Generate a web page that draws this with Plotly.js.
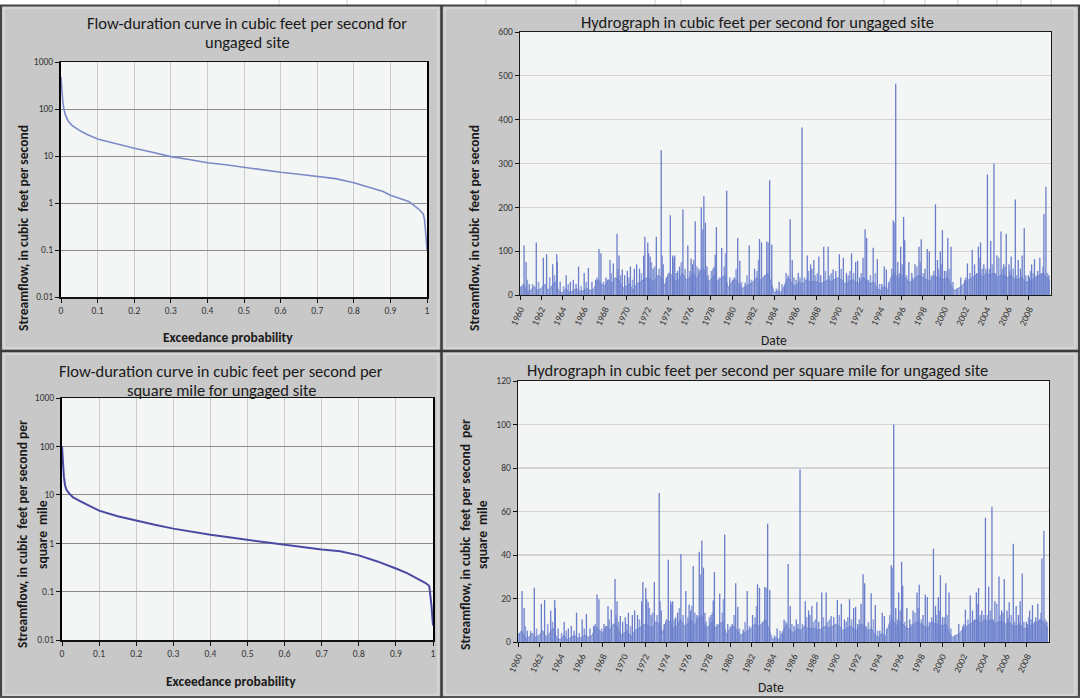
<!DOCTYPE html>
<html><head><meta charset="utf-8">
<script src="https://cdn.plot.ly/plotly-3.0.1.min.js"></script>
<style>html,body{margin:0;padding:0;background:#c8c8c8;overflow:hidden}#chart{width:1080px;height:698px}</style>
</head><body><div id="chart"></div>
<script>
// ---------- Flow-duration curves ----------
const fdcProb = [0, 0.002, 0.005, 0.008, 0.012, 0.02, 0.03, 0.05, 0.07, 0.1, 0.15, 0.2, 0.25, 0.3, 0.35, 0.4, 0.45, 0.5, 0.55, 0.6, 0.65, 0.7, 0.75, 0.8, 0.85, 0.88, 0.9, 0.93, 0.95, 0.96, 0.98, 0.99, 0.993, 0.996, 1.0];
const fdcCfs = [480, 250, 140, 100, 75, 55, 45, 35, 29, 23, 18, 14.6, 12, 9.7, 8.4, 7.2, 6.5, 5.7, 5.1, 4.5, 4.1, 3.7, 3.3, 2.7, 2.1, 1.75, 1.46, 1.2, 1.08, 0.95, 0.71, 0.58, 0.45, 0.25, 0.1];
const fdcCsm = [100, 44, 24, 16, 12.7, 10.5, 8.8, 7.3, 6.2, 4.7, 3.6, 2.9, 2.4, 2.0, 1.7, 1.49, 1.32, 1.17, 1.05, 0.94, 0.83, 0.74, 0.68, 0.56, 0.42, 0.35, 0.30, 0.24, 0.20, 0.18, 0.15, 0.13, 0.09, 0.05, 0.02];
const probTickVals = [0, 0.1, 0.2, 0.3, 0.4, 0.5, 0.6, 0.7, 0.8, 0.9, 1];
const probTickLabels = ['0', '0.1', '0.2', '0.3', '0.4', '0.5', '0.6', '0.7', '0.8', '0.9', '1'];
const logTickVals = [0.01, 0.1, 1, 10, 100, 1000];
const logTickLabels = ['0.01', '0.1', '1', '10', '100', '1000'];

// ---------- Hydrographs: storm peaks ----------
const peakDates = ['1960-05-20','1960-07-30','1960-11-15','1961-07-15','1962-03-15','1962-07-05','1963-02-01','1963-06-20','1963-07-10','1963-10-15','1964-05-10','1964-10-01','1965-01-10','1965-04-15','1965-07-10','1966-01-20','1966-06-15','1966-10-15','1967-02-20','1967-06-15','1967-08-20','1968-02-10','1968-04-15','1968-06-28','1968-10-20','1969-02-25','1969-05-05','1969-08-25','1969-11-15','1970-02-15','1970-06-01','1970-10-15','1971-01-01','1971-04-10','1971-08-30','1971-10-12','1972-01-20','1972-02-20','1972-04-12','1972-07-20','1972-11-10','1973-04-27','1973-07-05','1973-10-15','1974-03-05','1974-05-25','1974-08-05','1974-11-15','1975-01-20','1975-05-15','1975-10-30','1976-02-20','1976-04-15','1976-07-12','1976-11-15','1977-02-05','1977-05-05','1977-06-28','1977-08-20','1978-03-15','1978-06-01','1978-07-12','1979-01-10','1979-07-01','1979-10-15','1980-03-15','1980-07-15','1980-09-25','1981-03-28','1981-08-15','1982-02-15','1982-08-05','1982-10-12','1983-04-12','1983-07-20','1983-10-01','1984-06-10','1984-12-15','1985-02-05','1985-06-25','1985-09-05','1986-01-15','1986-04-01','1986-08-08','1987-02-05','1987-05-30','1987-07-15','1987-09-20','1988-03-10','1988-05-15','1988-08-25','1989-01-25','1989-07-15','1989-10-15','1990-02-15','1990-07-01','1990-10-15','1991-04-10','1991-08-30','1991-11-05','1992-01-15','1992-05-10','1992-07-20','1992-09-12','1993-04-25','1993-09-15','1994-02-15','1994-05-10','1994-07-22','1995-03-18','1995-06-10','1995-08-20','1995-11-28','1996-03-08','1996-04-15','1996-09-05','1996-12-15','1997-04-05','1997-08-20','1997-11-05','1998-03-15','1998-06-01','1998-08-10','1999-03-10','1999-05-20','1999-08-25','1999-11-05','2000-01-15','2000-05-08','2000-08-28','2001-07-30','2001-12-15','2002-03-15','2002-08-28','2002-11-15','2003-01-20','2003-03-28','2003-06-10','2003-10-01','2004-02-03','2004-05-25','2004-09-15','2004-12-25','2005-05-15','2005-08-15','2005-11-12','2006-02-15','2006-05-01','2006-09-20','2006-12-28','2007-03-15','2007-05-15','2007-07-25','2007-12-15','2008-01-15','2008-04-05','2008-07-12','2008-11-01','2009-01-12','2009-06-01','2009-08-10','2009-11-20'];
const peakCfs = [113,75,25,120,85,93,70,93,75,30,45,30,35,25,65,50,62,30,35,105,95,40,35,80,72,140,90,58,45,55,65,60,70,60,90,133,120,95,88,60,133,330,70,40,182,90,90,55,65,195,113,83,70,168,60,200,225,165,65,60,92,155,107,238,40,40,130,78,28,113,60,128,120,122,262,115,30,20,50,173,80,35,50,382,90,70,60,80,88,45,110,110,58,55,93,85,50,95,75,78,40,85,150,130,108,82,25,65,58,170,482,75,110,178,125,75,50,70,110,127,60,105,100,207,80,100,148,55,130,110,40,35,72,103,70,50,110,120,70,275,123,300,90,145,70,140,70,88,218,80,60,90,152,45,40,70,82,55,85,185,247,45];
const peakCsm = [23.4,15.6,5.2,24.9,17.6,19.3,14.5,19.3,15.6,6.2,9.3,6.2,7.3,5.2,13.5,10.4,12.9,6.2,7.3,21.8,19.7,8.3,7.3,16.6,14.9,29.0,18.7,12.0,9.3,11.4,13.5,12.4,14.5,12.4,18.7,27.6,24.9,19.7,18.3,12.4,27.6,68.5,14.5,8.3,37.8,18.7,18.7,11.4,13.5,40.5,23.4,17.2,14.5,34.9,12.4,41.5,46.7,34.2,13.5,12.4,19.1,32.2,22.2,49.4,8.3,8.3,27.0,16.2,5.8,23.4,12.4,26.6,24.9,25.3,54.4,23.9,6.2,4.1,10.4,35.9,16.6,7.3,10.4,79.3,18.7,14.5,12.4,16.6,18.3,9.3,22.8,22.8,12.0,11.4,19.3,17.6,10.4,19.7,15.6,16.2,8.3,17.6,31.1,27.0,22.4,17.0,5.2,13.5,12.0,35.3,100,15.6,22.8,36.9,25.9,15.6,10.4,14.5,22.8,26.3,12.4,21.8,20.7,42.9,16.6,20.7,30.7,11.4,27.0,22.8,8.3,7.3,14.9,21.4,14.5,10.4,22.8,24.9,14.5,57.1,25.5,62.2,18.7,30.1,14.5,29.0,14.5,18.3,45.2,16.6,12.4,18.7,31.5,9.3,8.3,14.5,17.0,11.4,17.6,38.4,51.2,9.3];

// ---------- Hydrographs: smaller freshets ----------
const minorDates = ['1960-02-20','1960-09-10','1961-03-10','1961-10-01','1962-10-20','1963-04-05','1964-02-10','1964-07-20','1965-10-10','1966-04-01','1967-04-10','1967-11-20','1968-08-10','1969-04-01','1969-07-01','1970-04-10','1970-08-15','1971-06-15','1972-05-25','1972-09-15','1973-02-10','1973-06-01','1973-12-10','1974-06-25','1974-10-01','1975-03-20','1975-08-01','1976-01-10','1976-05-20','1976-09-10','1977-03-25','1977-10-01','1978-01-20','1978-05-01','1978-10-10','1979-04-10','1979-05-20','1980-01-20','1980-05-20','1980-11-20','1981-06-01','1981-11-01','1982-05-10','1982-07-01','1983-01-20','1983-06-01','1984-03-10','1984-09-20','1985-04-15','1985-11-01','1986-06-01','1986-11-01','1987-03-20','1987-11-15','1988-01-20','1988-10-20','1989-03-20','1989-05-20','1990-04-20','1990-12-15','1991-02-10','1991-06-20','1992-03-10','1992-11-15','1993-01-20','1993-07-10','1993-12-01','1994-10-10','1995-01-25','1995-04-25','1995-10-10','1996-01-20','1996-06-20','1997-01-20','1997-06-10','1997-10-01','1998-01-20','1998-10-20','1999-01-10','1999-06-25','1999-09-25','2000-03-20','2000-07-01','2000-11-01','2001-03-15','2002-01-20','2002-06-10','2003-05-01','2003-08-10','2003-12-10','2004-04-10','2004-07-20','2004-11-01','2005-03-01','2005-06-20','2005-10-01','2006-03-20','2006-07-10','2006-11-01','2007-04-01','2007-09-20','2008-03-01','2008-06-01','2008-09-20','2009-03-10','2009-05-01','2009-10-01'];
const minorCfs = [20,35,25,30,40,45,20,25,20,30,40,30,50,60,45,40,35,50,75,65,60,90,45,85,50,75,60,55,80,65,150,45,55,65,40,65,95,35,60,30,45,35,55,80,45,120,15,25,45,40,40,40,55,45,50,55,45,50,60,45,55,50,50,35,45,50,25,30,60,165,50,70,45,40,65,75,50,45,55,60,70,55,60,30,15,40,50,85,60,60,60,70,50,85,60,65,55,60,45,45,45,55,50,45,50,65,50];
const minorCsm = [4.1,7.3,5.2,6.2,8.3,9.3,4.1,5.2,4.1,6.2,8.3,6.2,10.4,12.4,9.3,8.3,7.3,10.4,15.6,13.5,12.4,18.7,9.3,17.6,10.4,15.6,12.4,11.4,16.6,13.5,31.1,9.3,11.4,13.5,8.3,13.5,19.7,7.3,12.4,6.2,9.3,7.3,11.4,16.6,9.3,24.9,3.1,5.2,9.3,8.3,8.3,8.3,11.4,9.3,10.4,11.4,9.3,10.4,12.4,9.3,11.4,10.4,10.4,7.3,9.3,10.4,5.2,6.2,12.4,34.2,10.4,14.5,9.3,8.3,13.5,15.6,10.4,9.3,11.4,12.4,14.5,11.4,12.4,6.2,3.1,8.3,10.4,17.6,12.4,12.4,12.4,14.5,10.4,17.6,12.4,13.5,11.4,12.4,9.3,9.3,9.3,11.4,10.4,9.3,10.4,13.5,10.4];

// ---------- Hydrographs: dense daily low-flow band ----------
const baseDates = ['1960-01','1960-05','1960-09','1961-01','1961-05','1961-09','1962-01','1962-05','1962-09','1963-01','1963-05','1963-09','1964-01','1964-05','1964-09','1965-01','1965-05','1965-09','1966-01','1966-05','1966-09','1967-01','1967-05','1967-09','1968-01','1968-05','1968-09','1969-01','1969-05','1969-09','1970-01','1970-05','1970-09','1971-01','1971-05','1971-09','1972-01','1972-05','1972-09','1973-01','1973-05','1973-09','1974-01','1974-05','1974-09','1975-01','1975-05','1975-09','1976-01','1976-05','1976-09','1977-01','1977-05','1977-09','1978-01','1978-05','1978-09','1979-01','1979-05','1979-09','1980-01','1980-05','1980-09','1981-01','1981-05','1981-09','1982-01','1982-05','1982-09','1983-01','1983-05','1983-09','1984-01','1984-05','1984-09','1985-01','1985-05','1985-09','1986-01','1986-05','1986-09','1987-01','1987-05','1987-09','1988-01','1988-05','1988-09','1989-01','1989-05','1989-09','1990-01','1990-05','1990-09','1991-01','1991-05','1991-09','1992-01','1992-05','1992-09','1993-01','1993-05','1993-09','1994-01','1994-05','1994-09','1995-01','1995-05','1995-09','1996-01','1996-05','1996-09','1997-01','1997-05','1997-09','1998-01','1998-05','1998-09','1999-01','1999-05','1999-09','2000-01','2000-05','2000-09','2001-01','2001-05','2001-09','2002-01','2002-05','2002-09','2003-01','2003-05','2003-09','2004-01','2004-05','2004-09','2005-01','2005-05','2005-09','2006-01','2006-05','2006-09','2007-01','2007-05','2007-09','2008-01','2008-05','2008-09','2009-01','2009-05','2009-09','2010-01'];
const baseCfs = [15,25,8, 10,20,10, 15,25,10, 20,30,8, 5,15,5, 10,15,8, 10,15,10, 15,35,25, 20,35,25, 40,35,15, 20,25,10, 25,30,35, 40,35,30, 45,40,20, 50,45,30, 35,50,35, 40,50,35, 55,60,30, 35,45,30, 40,45,15, 30,35,25, 15,20,25, 30,40,35, 40,50,30, 5,10,5, 25,40,25, 20,30,25, 35,30,30, 30,25,30, 35,30,35, 40,35,25, 30,35,30, 25,40,35, 25,30,15, 10,20,10, 40,50,35, 45,40,30, 30,40,45, 40,35,30, 45,40,40, 35,40,20, 10,15,20, 30,35,40, 45,50,40, 50,45,50, 40,45,45, 40,45,35, 35,40,30, 30,35,40, 45,50,40, 30];
const baseCsm = [3.1,5.2,1.7, 2.1,4.1,2.1, 3.1,5.2,2.1, 4.1,6.2,1.7, 1.0,3.1,1.0, 2.1,3.1,1.7, 2.1,3.1,2.1, 3.1,7.3,5.2, 4.1,7.3,5.2, 8.3,7.3,3.1, 4.1,5.2,2.1, 5.2,6.2,7.3, 8.3,7.3,6.2, 9.3,8.3,4.1, 10.4,9.3,6.2, 7.3,10.4,7.3, 8.3,10.4,7.3, 11.4,12.4,6.2, 7.3,9.3,6.2, 8.3,9.3,3.1, 6.2,7.3,5.2, 3.1,4.1,5.2, 6.2,8.3,7.3, 8.3,10.4,6.2, 1.0,2.1,1.0, 5.2,8.3,5.2, 4.1,6.2,5.2, 7.3,6.2,6.2, 6.2,5.2,6.2, 7.3,6.2,7.3, 8.3,7.3,5.2, 6.2,7.3,6.2, 5.2,8.3,7.3, 5.2,6.2,3.1, 2.1,4.1,2.1, 8.3,10.4,7.3, 9.3,8.3,6.2, 6.2,8.3,9.3, 8.3,7.3,6.2, 9.3,8.3,8.3, 7.3,8.3,4.1, 2.1,3.1,4.1, 6.2,7.3,8.3, 9.3,10.4,8.3, 10.4,9.3,10.4, 8.3,9.3,9.3, 8.3,9.3,7.3, 7.3,8.3,6.2, 6.2,7.3,8.3, 9.3,10.4,8.3, 6.2];

const hydroTickLabels = ['1960','1962','1964','1966','1968','1970','1972','1974','1976','1978','1980','1982','1984','1986','1988','1990','1992','1994','1996','1998','2000','2002','2004','2006','2008'];
const cfsTicks = [0, 100, 200, 300, 400, 500, 600];
const csmTicks = [0, 20, 40, 60, 80, 100, 120];

// ---------- helpers ----------
const W = 1080, H = 698;
const px = v => v / W;
const py = v => 1 - v / H;
const FONT = "Carlito, Calibri, Lato, 'Open Sans', sans-serif";
const hydroTickVals = hydroTickLabels.map(y => y + '-01-01');

function spikes(dates, vals) {
  const x = [], y = [];
  dates.forEach((d, i) => { x.push(d, d, null); y.push(0, vals[i], null); });
  return {x, y};
}
const sTop = spikes(peakDates, peakCfs), sBot = spikes(peakDates, peakCsm);
const mTop = spikes(minorDates, minorCfs), mBot = spikes(minorDates, minorCsm);

const fdcLine1 = '#7c8ac8', fdcLine2 = '#4b4aa2', hydroCol = '#6a7dca';
const baseFill = 'rgba(106,128,205,0.62)', baseLine = 'rgba(100,122,202,0.9)', minorCol = 'rgba(110,132,208,0.75)';

const traces = [
  {x: fdcProb, y: fdcCfs, xaxis: 'x', yaxis: 'y', mode: 'lines', line: {color: fdcLine1, width: 1.6}, hoverinfo: 'skip'},
  {x: baseDates, y: baseCfs, xaxis: 'x2', yaxis: 'y2', mode: 'lines', fill: 'tozeroy', fillcolor: baseFill, line: {color: baseLine, width: 0.8}, hoverinfo: 'skip'},
  {x: mTop.x, y: mTop.y, xaxis: 'x2', yaxis: 'y2', mode: 'lines', line: {color: minorCol, width: 1.6}, connectgaps: false, hoverinfo: 'skip'},
  {x: sTop.x, y: sTop.y, xaxis: 'x2', yaxis: 'y2', mode: 'lines', line: {color: hydroCol, width: 1.3}, connectgaps: false, hoverinfo: 'skip'},
  {x: fdcProb, y: fdcCsm, xaxis: 'x3', yaxis: 'y3', mode: 'lines', line: {color: fdcLine2, width: 2}, hoverinfo: 'skip'},
  {x: baseDates, y: baseCsm, xaxis: 'x4', yaxis: 'y4', mode: 'lines', fill: 'tozeroy', fillcolor: baseFill, line: {color: baseLine, width: 0.8}, hoverinfo: 'skip'},
  {x: mBot.x, y: mBot.y, xaxis: 'x4', yaxis: 'y4', mode: 'lines', line: {color: minorCol, width: 1.6}, connectgaps: false, hoverinfo: 'skip'},
  {x: sBot.x, y: sBot.y, xaxis: 'x4', yaxis: 'y4', mode: 'lines', line: {color: hydroCol, width: 1.3}, connectgaps: false, hoverinfo: 'skip'}
];

const tickFont = {family: FONT, size: 9.5, color: '#333'};
function probAxis(x0, x1, anchor) {
  return {domain: [px(x0), px(x1)], anchor, range: [0, 1], tickvals: probTickVals, ticktext: probTickLabels,
    showgrid: true, gridcolor: '#cbcbcb', gridwidth: 1, zeroline: false, showline: true, linecolor: '#111', linewidth: 1.5,
    mirror: true, ticks: 'outside', ticklen: 4, tickcolor: '#111', tickfont: tickFont, fixedrange: true};
}
function logAxis(yb, yt, anchor) {
  return {domain: [py(yb), py(yt)], anchor, type: 'log', range: [-2, 3], tickvals: logTickVals, ticktext: logTickLabels,
    showgrid: true, gridcolor: '#8c8c8c', gridwidth: 1, zeroline: false, showline: true, linecolor: '#000', linewidth: 2,
    mirror: true, ticks: 'outside', ticklen: 4, tickcolor: '#111', tickfont: tickFont, fixedrange: true};
}
function dateAxis(x0, x1, anchor) {
  return {domain: [px(x0), px(x1)], anchor, type: 'date', range: ['1960-01-01', '2010-02-01'], tickvals: hydroTickVals, ticktext: hydroTickLabels,
    tickangle: -65, showgrid: false, zeroline: false, showline: true, linecolor: '#1a1a1a', linewidth: 1.3, mirror: true,
    ticks: 'outside', ticklen: 4, tickcolor: '#111', tickfont: tickFont, fixedrange: true};
}
function linAxis(yb, yt, anchor, max, tv) {
  return {domain: [py(yb), py(yt)], anchor, range: [0, max], tickvals: tv, showgrid: true, gridcolor: '#d4d4d4', gridwidth: 1.2,
    zeroline: false, showline: true, linecolor: '#1a1a1a', linewidth: 1.3, mirror: true, ticks: 'outside', ticklen: 4,
    tickcolor: '#111', tickfont: tickFont, fixedrange: true};
}

function ann(text, x, y, size, opts) {
  return Object.assign({text, x: px(x), y: py(y), xref: 'paper', yref: 'paper', xanchor: 'center', yanchor: 'middle',
    showarrow: false, font: {family: FONT, size, color: '#1a1a1a'}}, opts || {});
}
const bold = s => '<b>' + s + '</b>';
const annotations = [
  ann('Flow-duration curve in cubic feet per second for', 247, 23, 16.5),
  ann('ungaged site', 247, 42, 16.5),
  ann('Hydrograph in cubic feet per second for ungaged site', 757, 22, 16.5),
  ann('Flow-duration curve in cubic feet per second per', 221, 371, 16.5),
  ann('square mile for ungaged site', 221, 390, 16.5),
  ann('Hydrograph in cubic feet per second per square mile for ungaged site', 757, 370, 16.5),
  ann(bold('Exceedance probability'), 228, 337, 13.5),
  ann(bold('Exceedance probability'), 231, 681, 13.5),
  ann('Date', 774, 340, 13.5),
  ann('Date', 771, 687, 13.5),
  ann(bold('Streamflow, in cubic  feet per second'), 23, 228, 13.5, {textangle: -90}),
  ann(bold('Streamflow, in cubic  feet per second'), 474, 228, 13.5, {textangle: -90}),
  ann(bold('Streamflow, in cubic  feet per second per'), 22, 534, 13.5, {textangle: -90}),
  ann(bold('square  mile'), 42, 535, 13.5, {textangle: -90}),
  ann(bold('Streamflow, in cubic  feet per second  per'), 465, 535, 13.5, {textangle: -90}),
  ann(bold('square  mile'), 482, 535, 13.5, {textangle: -90})
];

function line(x0, y0, x1, y1, color, width) {
  return {type: 'line', xref: 'paper', yref: 'paper', x0: px(x0), y0: py(y0), x1: px(x1), y1: py(y1), line: {color, width}};
}
function rect(x0, y0, x1, y1, fill, lcolor, lwidth) {
  return {type: 'rect', xref: 'paper', yref: 'paper', x0: px(x0), y0: py(y0), x1: px(x1), y1: py(y1),
    fillcolor: fill, line: {color: lcolor, width: lwidth}};
}
const shapes = [
  rect(0, 0, 1080, 5, '#ffffff', 'rgba(0,0,0,0)', 0),
  ...[279, 347, 486, 576, 655, 681, 884, 925, 958, 997, 1021, 1051].map(x => line(x, 0, x, 5, '#cfcfcf', 1)),
  rect(4, 8, 438, 348, 'rgba(0,0,0,0)', '#e2e2e2', 1),
  rect(445, 8, 1075, 348, 'rgba(0,0,0,0)', '#e2e2e2', 1),
  rect(4, 354, 438, 695, 'rgba(0,0,0,0)', '#e2e2e2', 1),
  rect(445, 354, 1075, 695, 'rgba(0,0,0,0)', '#e2e2e2', 1),
  line(0, 5.5, 1080, 5.5, '#444', 2),
  line(1, 5, 1, 698, '#444', 2),
  line(1079, 5, 1079, 698, '#444', 2),
  line(0, 697, 1080, 697, '#555', 2),
  line(441.5, 5, 441.5, 698, '#3a3a3a', 2.5),
  line(0, 351, 1080, 351, '#3a3a3a', 2.5)
];

const layout = {
  width: W, height: H, margin: {l: 0, r: 0, t: 0, b: 0, pad: 0},
  paper_bgcolor: '#c8c8c8', plot_bgcolor: '#f4f6f6', showlegend: false,
  font: {family: FONT, size: 9.5, color: '#333'},
  xaxis: probAxis(61, 427, 'y'), yaxis: logAxis(297, 62, 'x'),
  xaxis2: dateAxis(520, 1051, 'y2'), yaxis2: linAxis(295, 32, 'x2', 600, cfsTicks),
  xaxis3: probAxis(62, 433, 'y3'), yaxis3: logAxis(640, 398, 'x3'),
  xaxis4: dateAxis(518, 1049, 'y4'), yaxis4: linAxis(642, 381, 'x4', 120, csmTicks),
  annotations, shapes
};

Plotly.newPlot('chart', traces, layout, {staticPlot: true, displayModeBar: false});
</script></body></html>
